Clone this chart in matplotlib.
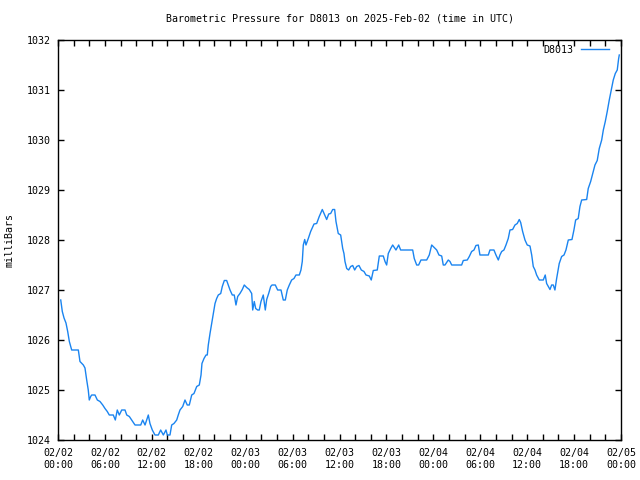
import matplotlib.pyplot as plt
from matplotlib.ticker import MultipleLocator

# hours since 2025-02-02 00:00 UTC
hours = [0.35, 0.55, 0.77, 1.02, 1.24, 1.45, 1.75, 2.6, 2.81, 3.24, 3.45, 3.67, 3.87, 4.0,
         4.18, 4.31, 4.73, 5.03, 5.37, 5.72, 6.01, 6.3, 6.56, 7.07, 7.33, 7.58, 7.84, 8.15,
         8.57, 8.79, 9.12, 9.42, 9.85, 10.58, 10.83, 11.13, 11.55, 11.76, 12.06, 12.4, 12.83,
         13.13, 13.47, 13.81, 13.98, 14.32, 14.54, 14.83, 15.18, 15.38, 15.6, 15.95, 16.24,
         16.53, 16.79, 17.1, 17.39, 17.74, 18.07, 18.29, 18.41, 18.67, 18.93, 19.09, 19.22,
         19.44, 19.65, 19.86, 20.08, 20.29, 20.5, 20.81, 21.01, 21.27, 21.57, 21.78, 22.0,
         22.29, 22.54, 22.76, 22.98, 23.27, 23.57, 23.82, 24.13, 24.46, 24.77, 24.9, 25.1,
         25.28, 25.54, 25.74, 25.96, 26.25, 26.51, 26.69, 26.94, 27.2, 27.37, 27.79, 28.09,
         28.52, 28.81, 29.07, 29.32, 29.58, 29.88, 30.18, 30.43, 30.86, 31.07, 31.24, 31.37,
         31.55, 31.71, 32.01, 32.31, 32.74, 33.08, 33.41, 33.8, 34.1, 34.36, 34.62, 34.87,
         35.13, 35.38, 35.55, 35.84, 36.15, 36.41, 36.57, 36.7, 36.92, 37.17, 37.43, 37.69,
         37.94, 38.2, 38.49, 38.79, 39.13, 39.39, 39.81, 40.06, 40.32, 40.83, 41.09, 41.6,
         41.82, 42.03, 42.24, 42.55, 42.8, 43.22, 43.57, 43.82, 45.36, 45.56, 45.87, 46.12,
         46.42, 47.15, 47.48, 47.79, 48.12, 48.43, 48.72, 49.07, 49.27, 49.49, 49.91, 50.13,
         50.35, 51.62, 51.83, 52.34, 52.6, 52.9, 53.2, 53.45, 53.75, 53.96, 55.03, 55.24,
         55.75, 56.01, 56.31, 56.52, 56.74, 57.03, 57.29, 57.58, 57.8, 58.14, 58.44, 58.73,
         58.99, 59.17, 59.42, 59.72, 60.01, 60.36, 60.58, 60.78, 61.0, 61.21, 61.55, 62.06,
         62.31, 62.49, 62.7, 62.92, 63.13, 63.34, 63.55, 63.77, 64.1, 64.41, 64.71, 64.96,
         65.26, 65.73, 65.98, 66.2, 66.53, 66.75, 66.97, 67.61, 67.81, 68.12, 68.38, 68.67,
         68.96, 69.22, 69.53, 69.74, 69.99, 70.24, 70.5, 70.76, 71.01, 71.27, 71.52, 71.7,
         71.78]

pressure = [1026.8, 1026.57, 1026.44, 1026.34, 1026.17, 1025.97, 1025.8, 1025.8, 1025.57,
            1025.5, 1025.44, 1025.2, 1025.0, 1024.8, 1024.87, 1024.9, 1024.9, 1024.8, 1024.77,
            1024.7, 1024.63, 1024.57, 1024.5, 1024.5, 1024.4, 1024.6, 1024.5, 1024.6, 1024.6,
            1024.5, 1024.47, 1024.4, 1024.3, 1024.3, 1024.4, 1024.3, 1024.5, 1024.33, 1024.2,
            1024.1, 1024.1, 1024.2, 1024.1, 1024.2, 1024.1, 1024.1, 1024.3, 1024.33, 1024.4,
            1024.5, 1024.6, 1024.67, 1024.8, 1024.7, 1024.7, 1024.9, 1024.93, 1025.07, 1025.1,
            1025.3, 1025.53, 1025.63, 1025.7, 1025.7, 1025.9, 1026.13, 1026.33, 1026.53,
            1026.73, 1026.83, 1026.9, 1026.93, 1027.07, 1027.19, 1027.19, 1027.1, 1027.0,
            1026.9, 1026.9, 1026.7, 1026.87, 1026.93, 1027.01, 1027.1, 1027.05, 1027.01,
            1026.93, 1026.6, 1026.77, 1026.63, 1026.6, 1026.6, 1026.77, 1026.9, 1026.6,
            1026.81, 1026.93, 1027.07, 1027.1, 1027.1, 1027.0, 1027.0, 1026.8, 1026.8, 1027.0,
            1027.1, 1027.2, 1027.23, 1027.3, 1027.3, 1027.4, 1027.57, 1027.9, 1028.01, 1027.9,
            1028.03, 1028.17, 1028.32, 1028.33, 1028.47, 1028.61, 1028.5, 1028.41, 1028.52,
            1028.53, 1028.61, 1028.61, 1028.37, 1028.13, 1028.1, 1027.83, 1027.73, 1027.57,
            1027.43, 1027.4, 1027.47, 1027.49, 1027.4, 1027.47, 1027.49, 1027.4, 1027.37,
            1027.3, 1027.28, 1027.2, 1027.39, 1027.4, 1027.68, 1027.68, 1027.57, 1027.5,
            1027.73, 1027.83, 1027.9, 1027.8, 1027.9, 1027.8, 1027.8, 1027.63, 1027.5, 1027.5,
            1027.6, 1027.6, 1027.7, 1027.9, 1027.85, 1027.8, 1027.7, 1027.68, 1027.5, 1027.5,
            1027.6, 1027.57, 1027.5, 1027.5, 1027.59, 1027.6, 1027.67, 1027.77, 1027.8,
            1027.89, 1027.9, 1027.7, 1027.7, 1027.8, 1027.8, 1027.7, 1027.6, 1027.7, 1027.77,
            1027.8, 1027.9, 1028.03, 1028.2, 1028.21, 1028.3, 1028.33, 1028.41, 1028.35,
            1028.17, 1028.0, 1027.9, 1027.88, 1027.7, 1027.47, 1027.4, 1027.3, 1027.2, 1027.2,
            1027.3, 1027.13, 1027.07, 1027.01, 1027.1, 1027.1, 1027.0, 1027.23, 1027.53,
            1027.67, 1027.7, 1027.8, 1028.0, 1028.01, 1028.2, 1028.4, 1028.43, 1028.67,
            1028.8, 1028.81, 1029.03, 1029.17, 1029.33, 1029.5, 1029.59, 1029.83, 1030.0,
            1030.2, 1030.37, 1030.57, 1030.8, 1031.0, 1031.2, 1031.33, 1031.4, 1031.63,
            1031.7]

tick_hours = [0, 6, 12, 18, 24, 30, 36, 42, 48, 54, 60, 66, 72]
tick_labels = ["02/02\n00:00", "02/02\n06:00", "02/02\n12:00", "02/02\n18:00",
               "02/03\n00:00", "02/03\n06:00", "02/03\n12:00", "02/03\n18:00",
               "02/04\n00:00", "02/04\n06:00", "02/04\n12:00", "02/04\n18:00",
               "02/05\n00:00"]

plt.rcParams["font.family"] = "DejaVu Sans Mono"
plt.rcParams["font.size"] = 7.2

fig = plt.figure(figsize=(6.4, 4.8), dpi=100)
ax = fig.add_axes([58 / 640, 40 / 480, 563 / 640, 400 / 480])

ax.plot(hours, pressure, color="#1a84f0", linewidth=1, label="D8013")

ax.set_xlim(0, 72)
ax.set_ylim(1024, 1032)
ax.set_xticks(tick_hours)
ax.set_xticklabels(tick_labels)
ax.xaxis.set_minor_locator(MultipleLocator(2))
ax.set_yticks(range(1024, 1033))
ax.tick_params(which="both", direction="in", top=True, right=True, length=4,
               width=1, color="black", pad=5)
ax.tick_params(axis="x", which="major", pad=6)
for s in ax.spines.values():
    s.set_linewidth(1)

ax.set_ylabel("milliBars", labelpad=9)
ax.set_title("Barometric Pressure for D8013 on 2025-Feb-02 (time in UTC)",
             fontsize=7.2, pad=13)

leg = ax.legend(loc="upper right", bbox_to_anchor=(0.9858, 0.9975), frameon=False,
                handlelength=2.8, handletextpad=0.8, borderaxespad=0, markerfirst=False)

plt.savefig("out.png", dpi=100)
